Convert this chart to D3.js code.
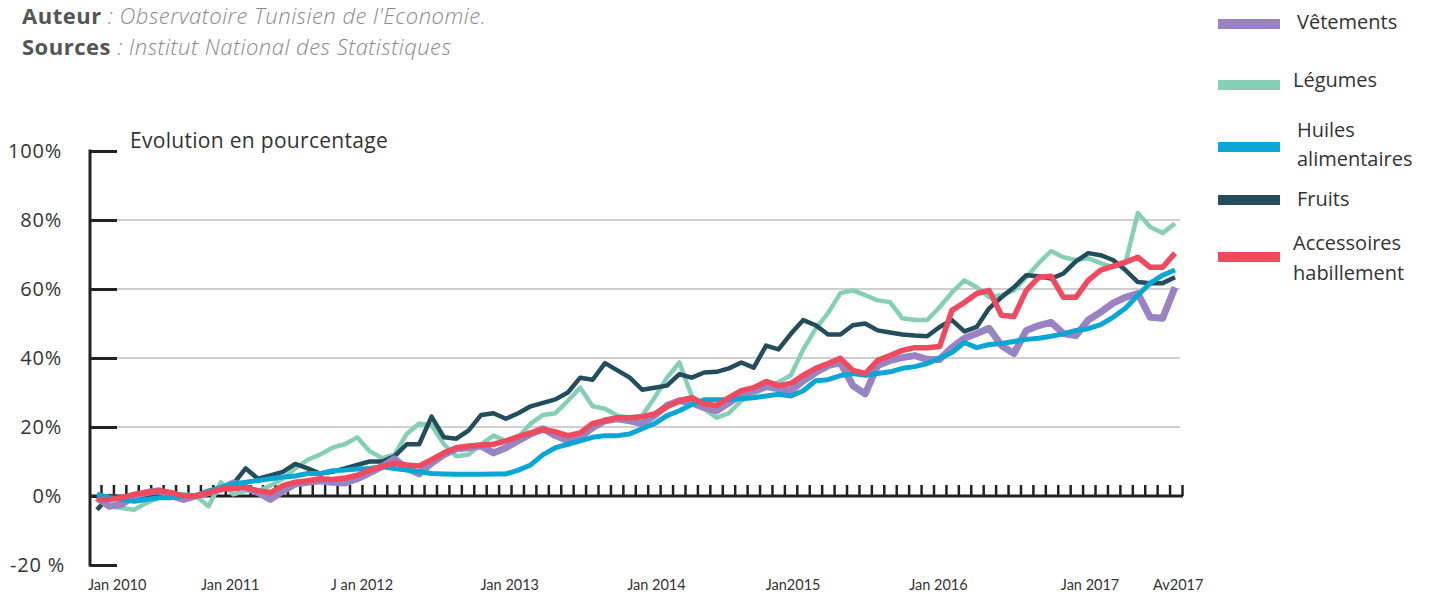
<!DOCTYPE html>
<html>
<head>
<meta charset="utf-8">
<script src="https://cdn.jsdelivr.net/npm/d3@7"></script>
<style>
  body { margin: 0; background: #fff; }
  svg { display: block; font-family: "Open Sans", Lato, sans-serif; }
</style>
</head>
<body>
<div id="chart"></div>
<script>
// monthly series, Jan 2010 .. Apr 2017 (88 points), % evolution
const vetements = [-0.5, -3, -2.4, 0, 1, 1.5, 0, -1, 0, 1, 2, 3.8, 2.5, 1, -1, 1.5, 3.5, 4, 4.4, 4, 3.8, 5, 6.7, 8.5,
  10.8, 8, 6.4, 9.5, 12, 13.7, 14, 14.5, 12.5, 14, 16, 18, 19.5, 17.5, 16, 17, 19.8, 21.8, 22.4, 21.8, 21, 23.3, 26.2, 27.6,
  27, 25.6, 24.7, 27, 29.6, 30.5, 31.7, 31.1, 30.5, 33.4, 35.8, 37.8, 38.7, 32, 29.6, 37.8, 39.3, 40.1, 40.7, 39.6, 39.6, 43,
  45.7, 47.1, 48.6, 43.6, 41.3, 48, 49.4, 50.3, 47.1, 46.5, 51, 53.3, 55.9, 57.6, 58.7, 51.8, 51.5, 60.5];
const legumes = [-0.5, -3, -3.5, -4, -2, -0.5, 0, 0.5, 0, -3, 4, 0.5, 1.5, 1.5, 3, 5, 8, 10.5, 12, 14, 15, 17, 13, 11,
  12, 18, 21, 20.5, 15, 11.5, 12, 15, 17.5, 16, 17, 21, 23.5, 24, 27.6, 31.4, 26, 25.3, 23.3, 22.7, 23.3, 28.5, 34.3, 38.7,
  29, 25.3, 22.7, 24, 27.6, 29.6, 31.4, 33, 35, 42.5, 48.5, 53, 58.8, 59.6, 58.2, 56.7, 56.2, 51.5, 51, 51, 54.7, 59,
  62.5, 60.5, 57.6, 58.2, 59.6, 63.4, 67.5, 71, 69.2, 68.4, 68.9, 67.5, 66.3, 67.5, 82, 78, 76.2, 79];
const huiles = [0.5, -0.5, -1, -1.5, -1, -0.5, -0.5, 0, 0, 1.5, 2.5, 3.5, 4, 4.5, 5, 5.5, 5.8, 6.5, 6.5, 7.3, 7.5, 7.8, 8, 8.5,
  8, 7.5, 7, 6.5, 6.4, 6.3, 6.3, 6.3, 6.4, 6.4, 7.5, 9, 12, 14, 15, 16, 17, 17.5, 17.5, 18, 19.5, 21, 23.3, 24.7,
  26.5, 27.9, 27.9, 28, 28.2, 28.5, 29, 29.5, 29, 30.5, 33.4, 33.7, 34.9, 35.5, 35, 35.5, 36, 37, 37.5, 38.4, 39.9, 41.6,
  44.5, 43, 43.9, 44.2, 44.8, 45.4, 45.7, 46.3, 47, 48, 48.5, 49.7, 51.8, 54.4, 58.2, 61.7, 64, 65.5];
const fruits = [-4, 0, -0.5, -1, 0, 0.5, 0.5, 0, 0, 1, 2.5, 3.5, 8, 5, 6, 7, 9.3, 8, 6.5, 7, 8, 9, 10, 10,
  11.5, 15, 15, 23, 17, 16.6, 19, 23.5, 24, 22.4, 24, 26, 27, 28, 30, 34.3, 33.7, 38.5, 36.4, 34.3, 30.8, 31.4, 32, 35.3,
  34.3, 35.8, 36, 37, 38.7, 37.2, 43.6, 42.5, 47, 51, 49.5, 46.8, 46.8, 49.5, 50, 48, 47.4, 46.8, 46.5, 46.3, 49, 51,
  47.7, 49, 54.4, 57.6, 60.5, 64, 63.7, 63, 64.5, 68, 70.4, 69.8, 68.4, 65.5, 62, 61.7, 61.7, 63.4];
const accessoires = [-1, -1, -0.5, 0.5, 1, 1.5, 1, 0, 0, 1, 2, 2.2, 2.5, 1.5, 1, 3, 4, 4.4, 5, 4.8, 5.2, 6, 7.5, 8.5,
  9.5, 9, 8.7, 10.5, 12.5, 14, 14.5, 14.8, 15, 16, 17.2, 18.3, 19.2, 18.6, 17.5, 18.3, 21, 21.8, 22.7, 22.7, 23, 23.8, 25.9, 27.6,
  28.5, 26.7, 26.2, 28.5, 30.5, 31.4, 33.2, 32, 32.6, 35, 37, 38.4, 39.9, 36.4, 35.5, 39.3, 40.7, 42.2, 43, 43, 43.3, 53.8,
  56.1, 58.7, 59.6, 52.4, 52, 59.6, 63.4, 63.7, 57.6, 57.6, 62.5, 65.5, 66.6, 67.8, 69.2, 66.3, 66.3, 70.4];

const seriesNames = ["Vêtements", "Légumes", "Huiles alimentaires", "Fruits", "Accessoires habillement"];
const seriesColors = ["#9983c2", "#86cfb7", "#0aa6d4", "#234c5c", "#ef4a5e"];
const seriesValues = [vetements, legumes, huiles, fruits, accessoires];

const yTicks = [-20, 0, 20, 40, 60, 80, 100];
const yTickLabels = ["-20 %", "0%", "20%", "40%", "60%", "80%", "100%"];
const gridValues = [20, 40, 60, 80];
// x labels and the month they sit under (as placed in the original)
const xLabels = ["Jan 2010", "Jan 2011", "J an 2012", "Jan 2013", "Jan 2014", "Jan2015", "Jan 2016", "Jan 2017", "Av2017"];
const xLabelAt = [1.3, 10.4, 21.0, 32.9, 44.7, 55.7, 67.4, 79.6, 86.7];
const nMonths = 88;

const W = 1438, H = 592;
const svg = d3.select("#chart").append("svg").attr("width", W).attr("height", H);

const x = d3.scaleLinear().domain([0, nMonths - 1]).range([97, 1175]);
const xTick = d3.scaleLinear().domain([0, nMonths - 1]).range([101, 1182]);
const y = d3.scaleLinear().domain([0, 100]).range([496, 151]);

// header
const head = svg.append("g").attr("font-size", 22).style("letter-spacing", "0.5px");
const h1 = head.append("text").attr("x", 22).attr("y", 24);
h1.append("tspan").attr("font-weight", "bold").attr("fill", "#555").text("Auteur");
h1.append("tspan").attr("font-style", "italic").attr("font-weight", 300).attr("fill", "#8a8a8a").text(" : Observatoire Tunisien de l'Economie.");
const h2 = head.append("text").attr("x", 22).attr("y", 55);
h2.append("tspan").attr("font-weight", "bold").attr("fill", "#555").text("Sources");
h2.append("tspan").attr("font-style", "italic").attr("font-weight", 300).attr("fill", "#8a8a8a").text(" : Institut National des Statistiques");

svg.append("text").attr("x", 130).attr("y", 148).attr("font-size", 21).attr("fill", "#333")
  .style("letter-spacing", "0.3px")
  .text("Evolution en pourcentage");

// gridlines
svg.append("g").selectAll("line").data(gridValues).enter().append("line")
  .attr("x1", 117).attr("x2", 1180)
  .attr("y1", d => y(d)).attr("y2", d => y(d))
  .attr("stroke", "#cfcfcf").attr("stroke-width", 2);

// y axis
const yAxis = svg.append("g").attr("transform", "translate(90,0)")
  .call(d3.axisRight(y).tickValues(yTicks).tickSize(27).tickFormat(""));
yAxis.select(".domain").remove();
yAxis.selectAll(".tick line").attr("stroke", "#222").attr("stroke-width", 3);
svg.append("line").attr("x1", 90).attr("x2", 90).attr("y1", y(100) - 1.5).attr("y2", y(-20) + 1.5)
  .attr("stroke", "#222").attr("stroke-width", 3);
svg.append("g").selectAll("text").data(yTicks).enter().append("text")
  .attr("x", (d, i) => i === 0 ? 65 : 62).attr("y", d => y(d)).attr("dy", "0.35em")
  .attr("text-anchor", "end").attr("font-size", 20).attr("fill", "#333")
  .style("letter-spacing", "0.8px")
  .text((d, i) => yTickLabels[i]);

// x axis on the zero line, with monthly ticks pointing up
const xAxis = svg.append("g").attr("transform", `translate(0,${y(0)})`)
  .call(d3.axisTop(xTick).tickValues(d3.range(nMonths)).tickSize(11).tickSizeOuter(0).tickFormat(""));
xAxis.select(".domain").remove();
xAxis.selectAll(".tick line").attr("stroke", "#222").attr("stroke-width", 2.5);
svg.append("line").attr("x1", 90).attr("x2", xTick(nMonths - 1) + 1)
  .attr("y1", y(0)).attr("y2", y(0)).attr("stroke", "#222").attr("stroke-width", 3);

svg.append("g").selectAll("text").data(xLabels).enter().append("text")
  .attr("x", (d, i) => xTick(xLabelAt[i])).attr("y", 590)
  .attr("text-anchor", "middle").attr("font-size", 14.5).attr("fill", "#333")
  .style("font-family", "Lato, sans-serif")
  .text(d => d);

// lines
const line = d3.line().x((d, i) => x(i)).y(d => y(d));
const drawOrder = [1, 3, 0, 2, 4];
const widths = [7, 4.5, 5, 4.5, 5.5];
svg.append("g").selectAll("path").data(drawOrder).enter().append("path")
  .attr("d", k => line(seriesValues[k]))
  .attr("fill", "none")
  .attr("stroke", k => seriesColors[k])
  .attr("stroke-width", k => widths[k])
  .attr("stroke-linejoin", "round");

// legend
const legendRows = [
  { sy: 24, lines: ["Vêtements"], ty: [22], tx: 1297 },
  { sy: 85, lines: ["Légumes"], ty: [80], tx: 1293 },
  { sy: 147, lines: ["Huiles", "alimentaires"], ty: [130, 159], tx: 1297 },
  { sy: 200, lines: ["Fruits"], ty: [199], tx: 1297 },
  { sy: 257, lines: ["Accessoires", "habillement"], ty: [243, 273], tx: 1293 }
];
const legend = svg.append("g");
legendRows.forEach(function (r, i) {
  legend.append("rect").attr("x", 1218).attr("y", r.sy - 5).attr("width", 62).attr("height", 10)
    .attr("fill", seriesColors[i]);
  r.lines.forEach(function (t, j) {
    legend.append("text").attr("x", r.tx).attr("y", r.ty[j]).attr("dy", "0.35em")
      .attr("font-size", 20).attr("fill", "#333").text(t);
  });
});
</script>
</body>
</html>
